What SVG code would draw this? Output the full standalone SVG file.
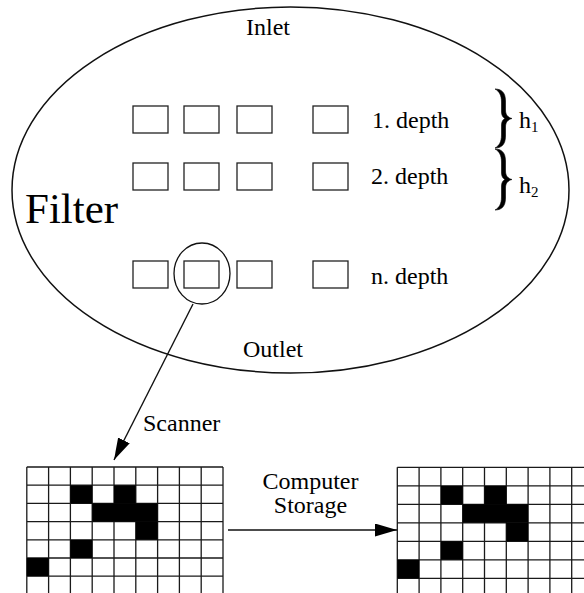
<svg xmlns="http://www.w3.org/2000/svg" width="584" height="593" viewBox="0 0 584 593">
  <style>
    .t { font-family: "Liberation Serif", "Times New Roman", serif; font-size: 24px; fill: #000; }
    .sub { font-size: 15px; }
    .box { fill: #fff; stroke: #222; stroke-width: 1.3; }
    .outline { fill: none; stroke: #111; stroke-width: 1.5; }
    .grid { fill: none; stroke: #1a1a1a; stroke-width: 1.3; }
    .cell { fill: #000; }
    .brace { fill: #000; stroke: #000; stroke-width: 0.6; stroke-linejoin: round; }
    .conn { fill: none; stroke: #111; stroke-width: 1.4; }
  </style>
  <defs>
    <marker id="head" markerUnits="userSpaceOnUse" markerWidth="23" markerHeight="14" refX="22" refY="6.5" orient="auto">
      <path d="M0,0 L22,6.5 L0,13 Z" fill="#000"/>
    </marker>
  </defs>
  <rect width="584" height="593" fill="#fff"/>

  <!-- filter vessel -->
  <g id="filter">
    <ellipse class="outline" cx="290.5" cy="190" rx="278.5" ry="183"/>
    <text class="t" x="246" y="35">Inlet</text>
    <text class="t" x="243" y="357">Outlet</text>
    <text class="t" x="25" y="223" style="font-size:43px">Filter</text>
  </g>

  <!-- sample positions, first depth -->
  <g id="depth1">
    <rect class="box" x="133" y="106" width="35" height="27"/>
    <rect class="box" x="184" y="106" width="35" height="27"/>
    <rect class="box" x="237" y="106" width="35" height="27"/>
    <rect class="box" x="313" y="106" width="35" height="27"/>
    <text class="t" x="372" y="128">1. depth</text>
  </g>

  <!-- sample positions, second depth -->
  <g id="depth2">
    <rect class="box" x="133" y="163" width="35" height="27"/>
    <rect class="box" x="184" y="163" width="35" height="27"/>
    <rect class="box" x="237" y="163" width="35" height="27"/>
    <rect class="box" x="313" y="163" width="35" height="27"/>
    <text class="t" x="371" y="184">2. depth</text>
  </g>

  <!-- sample positions, n-th depth -->
  <g id="depthN">
    <rect class="box" x="133" y="261" width="35" height="27"/>
    <rect class="box" x="184" y="261" width="35" height="27"/>
    <rect class="box" x="237" y="261" width="35" height="27"/>
    <rect class="box" x="313" y="261" width="35" height="27"/>
    <text class="t" x="371" y="284">n. depth</text>
  </g>

  <!-- selected sample -->
  <g id="sample">
    <ellipse class="outline" cx="202" cy="273.5" rx="28" ry="30.5" style="stroke-width:1.3"/>
  </g>

  <!-- layer heights: curly braces drawn as filled outlines -->
  <g id="h1">
    <path class="brace" d="M495,89 C501,89 505.5,92 505.5,101 L505.5,110 C505.5,115 508,117.5 512,118.5
      C508,119.5 505.5,122 505.5,127 L505.5,136 C505.5,145 501,148 495,148
      C499,146 501.5,142 501.5,135 L501.5,125 C501.5,121.5 503,119.5 505,118.5
      C503,117.5 501.5,115.5 501.5,112 L501.5,102 C501.5,95 499,91 495,89 Z"/>
    <text class="t" x="519" y="128">h<tspan class="sub" dy="4">1</tspan></text>
  </g>
  <g id="h2">
    <path class="brace" d="M495,149 C501,149 505.5,152 505.5,161 L505.5,171 C505.5,176 508,178.5 512,179.5
      C508,180.5 505.5,183 505.5,188 L505.5,198 C505.5,207 501,210 495,210
      C499,208 501.5,204 501.5,197 L501.5,186 C501.5,182.5 503,180.5 505,179.5
      C503,178.5 501.5,176.5 501.5,173 L501.5,162 C501.5,155 499,151 495,149 Z"/>
    <text class="t" x="519" y="193">h<tspan class="sub" dy="4">2</tspan></text>
  </g>

  <!-- scanned image of the sample -->
  <g id="scan">
    <path class="grid" d="M26.8,467 V593 M48.6,467 V593 M70.4,467 V593 M92.2,467 V593 M114,467 V593 M135.8,467 V593 M157.6,467 V593 M179.4,467 V593 M201.2,467 V593 M223,467 V593
      M26.8,467 H223 M26.8,485.2 H223 M26.8,503.4 H223 M26.8,521.6 H223 M26.8,539.8 H223 M26.8,558 H223 M26.8,576.2 H223"/>
    <rect class="cell" x="70.4" y="485.2" width="21.8" height="18.2"/>
    <rect class="cell" x="114" y="485.2" width="21.8" height="18.2"/>
    <rect class="cell" x="92.2" y="503.4" width="65.4" height="18.2"/>
    <rect class="cell" x="135.8" y="521.6" width="21.8" height="18.2"/>
    <rect class="cell" x="70.4" y="539.8" width="21.8" height="18.2"/>
    <rect class="cell" x="26.8" y="558" width="21.8" height="18.2"/>
  </g>

  <!-- stored copy -->
  <g id="stored">
    <path class="grid" d="M397.3,467.3 V593 M419.1,467.3 V593 M440.9,467.3 V593 M462.7,467.3 V593 M484.5,467.3 V593 M506.3,467.3 V593 M528.1,467.3 V593 M549.9,467.3 V593 M571.7,467.3 V593
      M397.3,467.3 H584 M397.3,485.8 H584 M397.3,504.3 H584 M397.3,522.8 H584 M397.3,541.3 H584 M397.3,559.8 H584 M397.3,578.3 H584"/>
    <rect class="cell" x="440.9" y="485.8" width="21.8" height="18.5"/>
    <rect class="cell" x="484.5" y="485.8" width="21.8" height="18.5"/>
    <rect class="cell" x="462.7" y="504.3" width="65.4" height="18.5"/>
    <rect class="cell" x="506.3" y="522.8" width="21.8" height="18.5"/>
    <rect class="cell" x="440.9" y="541.3" width="21.8" height="18.5"/>
    <rect class="cell" x="397.3" y="559.8" width="21.8" height="18.5"/>
  </g>

  <!-- connectors -->
  <g id="connectors">
    <path class="conn" d="M193,304 L114,460" marker-end="url(#head)"/>
    <text class="t" x="143" y="431">Scanner</text>
    <path class="conn" d="M228,530 L397,530" marker-end="url(#head)"/>
    <text class="t" x="310.5" y="489" text-anchor="middle">Computer</text>
    <text class="t" x="310.5" y="513" text-anchor="middle">Storage</text>
  </g>
</svg>
